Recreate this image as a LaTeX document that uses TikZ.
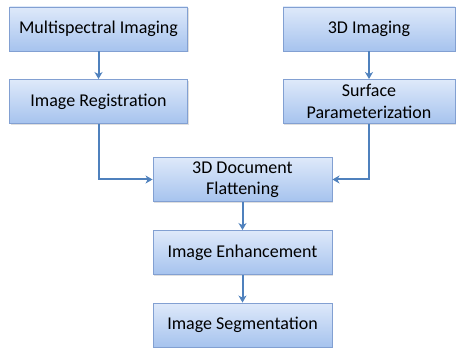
\documentclass[tikz,border=0pt]{standalone}
\usepackage{fontspec}
\setmainfont{Carlito}
\usepackage{tikz}
\usetikzlibrary{arrows.meta, positioning, shadows}

\definecolor{boxtop}{RGB}{222,233,250}
\definecolor{boxbottom}{RGB}{166,195,238}
\definecolor{boxline}{RGB}{130,160,210}
\definecolor{arrowblue}{RGB}{79,129,189}

\tikzset{
  procbox/.style={draw=boxline, line width=0.9pt, top color=boxtop, bottom color=boxbottom,
    minimum height=44pt, inner sep=1pt, align=center, font=\fontsize{18}{21.5}\selectfont,
    drop shadow={opacity=0.25, shadow xshift=1.2pt, shadow yshift=-1.2pt}},
  flowarrow/.style={draw=arrowblue, line width=2pt, -{Stealth[length=7pt, width=8pt, inset=2pt]}}
}

\begin{document}
\begin{tikzpicture}[x=1pt, y=1pt]
\useasboundingbox (0,0) rectangle (457,-352);
\node[procbox, minimum width=178pt] (multi) at (98.5,-29) {Multispectral Imaging};
\node[procbox, minimum width=178pt] (reg) at (98.5,-101.5) {Image Registration};
\node[procbox, minimum width=172pt] (threed) at (369,-29) {3D Imaging};
\node[procbox, minimum width=172pt] (surf) at (369,-101.5) {Surface\\Parameterization};
\node[procbox, minimum width=179pt] (flat) at (242.5,-179.5) {3D Document\\Flattening};
\node[procbox, minimum width=179pt] (enh) at (242.5,-252.5) {Image Enhancement};
\node[procbox, minimum width=179pt] (seg) at (242.5,-325) {Image Segmentation};
\draw[flowarrow] (multi) -- (reg);
\draw[flowarrow] (threed) -- (surf);
\draw[flowarrow] (reg.south) |- (flat.west);
\draw[flowarrow] (surf.south) |- (flat.east);
\draw[flowarrow] (flat) -- (enh);
\draw[flowarrow] (enh) -- (seg);
\end{tikzpicture}
\end{document}
